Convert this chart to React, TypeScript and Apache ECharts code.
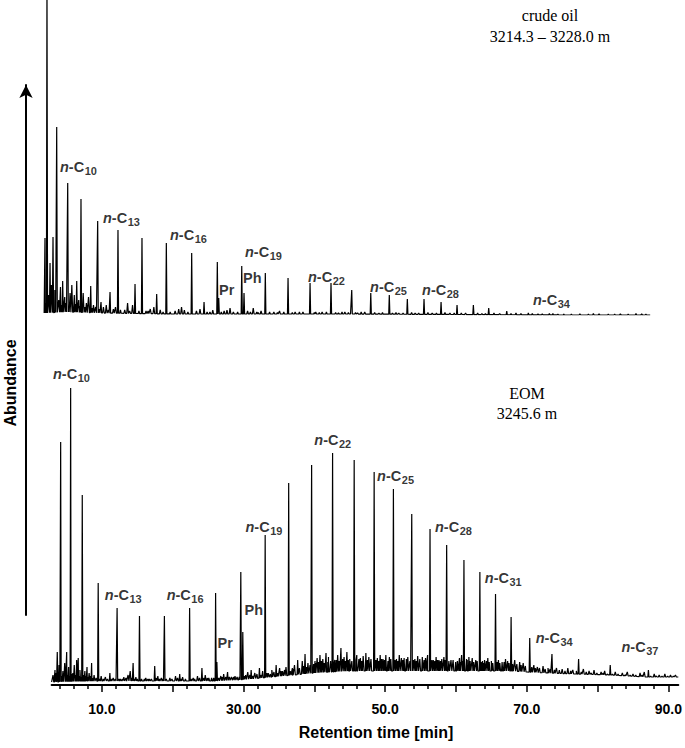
import React, { useEffect, useRef } from "react";
import * as echarts from "echarts";

const SANS = '"Liberation Sans", Arial, sans-serif';
const SERIF = '"Liberation Serif", "Times New Roman", serif';

// ---------------- crude oil (upper trace) ----------------
const OIL_BASE_TIME = [1.85, 5, 10, 20, 30, 45, 60, 75, 87.2];
const OIL_BASE_LEVEL = [2, 3, 2, 1, 1, 1, 0.5, 0, 0];

const OIL_PEAK_TIME = [1.97, 2.25, 2.68, 3.1, 3.62, 4.46, 5.17, 6.44, 7.04, 8.41, 9.39, 9.86, 11.13, 12.25, 14.65, 15.63, 17.7, 19.06, 22.63, 24.37, 26.24, 26.44, 29.68, 30.0, 33.0, 36.2, 39.3, 42.25, 45.17, 47.85, 50.46, 53.0, 55.35, 57.75, 60.0, 62.3, 64.46, 67.0, 70.04, 73.5];
const OIL_PEAK_HEIGHT = [77, 340, 52, 78, 188, 34, 132, 34, 116, 29, 94, 13, 23, 85, 31, 77, 21, 72, 62, 13, 53, 17, 49, 22, 42, 37, 32, 32, 25, 22, 20, 16, 16, 13, 10, 10, 7, 4, 2, 1.5];

const OIL_MINOR_TIME = [2.48, 2.89, 3.36, 3.9, 4.15, 4.75, 5.5, 5.75, 6.1, 6.72, 7.35, 7.8, 8.1, 8.8, 9.1, 10.2, 10.6, 11.6, 11.9, 13.2, 13.6, 14.3, 16.2, 16.8, 17.3, 18.2, 20.3, 20.8, 21.2, 21.6, 23.3, 23.8, 25.2, 25.6, 27.2, 27.6, 28.03, 28.5, 30.5, 30.9, 31.3, 31.8, 32.4, 34.2, 35.0, 37.2, 38.3, 40.1, 41.0, 43.3, 44.2, 46.0, 47.0, 49.0, 51.8, 54.1, 56.5, 59.0, 61.2, 63.5, 66, 69, 72, 75, 77.3, 80, 83, 86];
const OIL_MINOR_HEIGHT = [20, 30, 25, 15, 28, 18, 22, 30, 20, 15, 22, 12, 18, 10, 8, 8, 10, 6, 8, 5, 12, 10, 4, 6, 8, 5, 4, 6, 8, 5, 4, 6, 3, 5, 4, 5, 7, 3, 4, 3, 7, 3, 4, 3, 4, 3, 3, 3, 3, 2, 3, 2, 3, 2, 2, 2, 2, 2, 2, 1.5, 1.5, 1.5, 1, 1, 1.2, 1, 1, 1];

const OIL_NOISE_TIME = [2.1, 3.45, 4.3, 4.9, 5.35, 6.25, 6.9, 7.6, 8.6, 9.6, 10.9, 12.6, 13.9, 15.2, 16.5, 18.6, 19.6, 22.1, 24.8, 26.8, 29.1, 32.0, 33.6, 34.7, 35.6, 36.8, 37.8, 39.9, 40.6, 41.6, 42.9, 43.8, 44.7, 45.7, 46.5, 48.4, 49.5, 50.9, 51.4, 52.4, 53.6, 54.6, 55.9, 57.1, 58.3, 59.6, 60.6, 62.9, 64.0, 65.2, 67.6, 68.3, 70.6, 71.4, 73.0, 74.2, 76.1, 78.5, 79.2, 81.3, 82.2, 84.1, 85.2, 86.6];
const OIL_NOISE_HEIGHT = [12, 14, 10, 12, 9, 11, 9, 8, 7, 6, 5, 5, 4, 4, 4, 3, 3, 3, 3, 3, 3, 2.5, 3, 2.5, 3, 2.5, 3, 2.5, 2.5, 3, 2.5, 3, 2.5, 2.5, 3, 2.5, 2.5, 2, 2.5, 2, 2.5, 2, 2.5, 2, 2.5, 2, 2, 2, 1.5, 2, 1.5, 2, 1.5, 1, 1.5, 1, 1, 1, 1.5, 1, 1, 1, 1.5, 1];

const OIL_LABELS = ["n-C10", "n-C13", "n-C16", "n-C19", "Pr", "Ph", "n-C22", "n-C25", "n-C28", "n-C34"];
const OIL_LABEL_TIME = [4.08, 10.14, 19.58, 30.14, 26.48, 29.86, 39.01, 47.75, 55.07, 70.7];
const OIL_LABEL_LEVEL = [148, 97, 80, 63, 25, 37, 38, 28, 25, 15];

// ---------------- EOM (lower trace) ----------------
const EOM_BASE_TIME = [2.9, 10, 20, 26, 29, 31, 34, 37, 40, 42, 45, 50, 55, 60, 65, 68, 70, 73, 77, 82, 87, 91.4];
const EOM_BASE_LEVEL = [3, 4, 4, 4, 5, 6, 8, 10, 12, 13, 14, 14, 14, 14, 14, 14, 13, 12, 11, 10, 8, 8];

const EOM_PEAK_TIME = [3.38, 3.7, 4.18, 5.03, 5.59, 6.44, 6.66, 7.23, 8.55, 9.48, 11.13, 12.15, 14.41, 15.31, 17.46, 18.83, 20.99, 22.39, 24.13, 26.06, 26.24, 27.75, 29.62, 29.9, 31.08, 32.25, 33.06, 34.61, 36.38, 37.65, 38.69, 39.62, 41.65, 42.58, 43.76, 45.63, 47.28, 48.45, 50.1, 51.17, 52.68, 53.76, 55.25, 56.34, 57.6, 58.69, 59.96, 61.13, 61.83, 63.38, 64.04, 65.59, 66.52, 67.79, 70.42, 73.56, 77.32, 81.79, 87.18];
const EOM_PEAK_HEIGHT = [15, 33, 243, 33, 297, 25, 27, 190, 22, 102, 12, 77, 22, 69, 19, 69, 11, 77, 17, 92, 23, 13, 113, 53, 15, 17, 150, 20, 202, 25, 31, 220, 32, 232, 37, 225, 32, 213, 30, 196, 27, 171, 28, 156, 25, 140, 23, 125, 28, 113, 25, 91, 23, 68, 47, 31, 26, 20, 15];

const EOM_MINOR_TIME = [3.1, 3.95, 4.5, 4.75, 5.3, 5.9, 6.1, 6.9, 7.6, 7.9, 8.2, 8.9, 9.9, 10.5, 11.6, 12.6, 13.1, 13.7, 14.0, 14.8, 16.2, 16.7, 17.9, 18.4, 19.6, 20.4, 21.4, 22.9, 23.5, 24.6, 25.1, 26.8, 27.2, 28.3, 28.8, 30.3, 30.6, 31.6, 32.7, 33.5, 34.0, 35.1, 35.5, 36.0, 36.9, 37.2, 38.3, 39.1, 40.1, 40.4, 40.8, 41.2, 42.0, 42.9, 43.3, 44.2, 44.6, 45.0, 46.0, 46.5, 46.9, 47.7, 48.9, 49.3, 49.7, 50.6, 51.6, 52.0, 52.3, 53.2, 54.2, 54.6, 55.7, 56.0, 56.8, 57.2, 58.0, 58.3, 59.3, 60.5, 60.8, 61.5, 62.3, 62.8, 63.75, 64.5, 65.0, 66.0, 67.0, 67.3, 68.3, 69.0, 69.5, 71.0, 71.5, 72.3, 73.0, 74.2, 75.0, 75.8, 76.5, 78.0, 78.8, 79.5, 80.5, 81.0, 82.5, 83.5, 84.2, 85.0, 86.0, 86.6, 88.0, 88.7, 89.5, 90.3, 91.0];
const EOM_MINOR_HEIGHT = [10, 20, 14, 22, 18, 12, 20, 15, 14, 18, 12, 10, 9, 8, 7, 6, 8, 10, 14, 8, 7, 6, 9, 7, 7, 9, 8, 7, 9, 10, 7, 9, 11, 8, 9, 10, 13, 12, 14, 12, 15, 17, 14, 18, 17, 20, 24, 22, 24, 27, 30, 26, 28, 25, 30, 28, 33, 26, 30, 27, 29, 28, 27, 30, 26, 28, 26, 30, 27, 28, 26, 29, 27, 30, 25, 28, 26, 28, 25, 27, 30, 26, 27, 25, 24, 27, 24, 25, 26, 24, 25, 23, 22, 20, 18, 19, 17, 17, 16, 17, 15, 16, 14, 15, 13, 14, 13, 12, 13, 11, 12, 13, 11, 10, 11, 10, 10];

const EOM_NOISE_TIME = [3.3, 3.5, 4.0, 4.35, 4.6, 5.15, 5.45, 5.75, 6.3, 6.8, 7.1, 7.45, 7.75, 8.05, 8.4, 8.7, 9.2, 9.7, 10.2, 10.8, 11.3, 11.9, 12.4, 12.9, 13.4, 14.2, 14.6, 15.0, 15.6, 16.0, 16.5, 17.0, 17.7, 18.1, 18.6, 19.1, 19.9, 20.7, 21.2, 21.8, 22.6, 23.1, 23.8, 24.4, 24.9, 25.5, 25.8, 26.5, 27.0, 27.5, 28.0, 28.6, 29.1, 29.4, 30.1, 30.9, 31.3, 31.9, 32.5, 33.3, 33.8, 34.3, 34.8, 35.3, 35.8, 36.6, 37.0, 37.9, 38.5, 38.9, 39.4, 39.9, 40.2, 40.6, 41.0, 41.4, 41.9, 42.3, 42.8, 43.1, 43.5, 44.0, 44.4, 44.8, 45.3, 45.9, 46.3, 46.7, 47.5, 48.0, 48.7, 49.1, 49.5, 49.9, 50.4, 50.8, 51.4, 51.8, 52.5, 53.0, 53.5, 54.0, 54.4, 54.9, 55.5, 55.9, 56.6, 57.0, 57.4, 57.8, 58.5, 59.0, 59.6, 60.2, 60.6, 61.0, 61.6, 62.0, 62.5, 63.0, 63.55, 63.9, 64.3, 64.7, 65.2, 65.8, 66.2, 66.8, 67.5, 68.0, 68.6, 69.2, 69.8, 70.7, 71.2, 71.8, 72.6, 73.3, 73.9, 74.6, 75.4, 76.2, 77.0, 77.7, 78.4, 79.1, 79.9, 80.8, 81.4, 82.1, 82.9, 83.9, 84.6, 85.4, 86.3, 87.5, 88.3, 89.1, 89.9, 90.7];
const EOM_NOISE_HEIGHT = [8, 12, 10, 9, 12, 10, 9, 11, 10, 9, 8, 10, 9, 8, 9, 7, 7, 6, 6, 6, 6, 6, 6, 6, 7, 7, 6, 6, 6, 6, 6, 6, 7, 6, 6, 6, 6, 7, 6, 6, 6, 6, 7, 7, 7, 7, 7, 7, 8, 8, 8, 8, 8, 8, 9, 10, 9, 11, 10, 12, 11, 13, 12, 14, 15, 14, 16, 17, 19, 18, 20, 21, 22, 23, 24, 22, 23, 24, 22, 25, 24, 26, 24, 25, 24, 25, 26, 24, 25, 26, 25, 24, 26, 25, 24, 26, 25, 24, 25, 26, 24, 25, 24, 26, 25, 24, 25, 24, 25, 24, 25, 24, 25, 24, 23, 24, 25, 24, 23, 24, 23, 22, 24, 23, 22, 23, 22, 23, 22, 21, 21, 20, 19, 18, 17, 17, 16, 16, 15, 15, 14, 14, 14, 13, 13, 12, 12, 12, 11, 11, 11, 10, 10, 10, 10, 9, 9, 9, 9, 9];

const EOM_LABELS = ["n-C10", "n-C13", "n-C16", "Pr", "Ph", "n-C19", "n-C22", "n-C25", "n-C28", "n-C31", "n-C34", "n-C37"];
const EOM_LABEL_TIME = [3.1, 10.42, 19.15, 26.34, 30.14, 30.28, 40.0, 48.87, 57.04, 64.08, 71.27, 83.38];
const EOM_LABEL_LEVEL = [311, 90, 90, 42, 75, 158, 245, 209, 158, 107, 47, 38];

// ---------------- axis ----------------
const TICK_LABEL_VALUES = [10, 30, 50, 70, 90];
const TICK_LABELS = ["10.0", "30.00", "50.0", "70.0", "90.0"];
const MAJOR_TICKS = [10, 20, 30, 40, 50, 60, 70, 80, 90];
const MINOR_TICKS = [4, 6, 8, 12, 14, 16, 18, 22, 24, 26, 28, 32, 34, 36, 38, 42, 44, 46, 48, 52, 54, 56, 58, 62, 64, 66, 68, 72, 74, 76, 78, 82, 84, 86, 88];

function baseAt(ts: number[], vs: number[], t: number): number {
  for (let i = 0; i < ts.length - 1; i++) {
    if (t >= ts[i] && t <= ts[i + 1]) {
      const f = (t - ts[i]) / (ts[i + 1] - ts[i]);
      return vs[i] + f * (vs[i + 1] - vs[i]);
    }
  }
  return vs[vs.length - 1];
}

function buildTrace(
  baseT: number[], baseV: number[],
  groups: [number[], number[], number][]
): number[][] {
  const pts: number[][] = [];
  baseT.forEach((t, i) => pts.push([t, baseV[i]]));
  const lo = baseT[0];
  const hi = baseT[baseT.length - 1];
  groups.forEach(([ts, vs, hw]) => {
    ts.forEach((t, i) => {
      if (t - hw < lo || t + hw > hi) return;
      pts.push([t - hw, baseAt(baseT, baseV, t - hw)], [t, vs[i]], [t + hw, baseAt(baseT, baseV, t + hw)]);
    });
  });
  pts.sort((a, b) => a[0] - b[0]);
  return pts;
}

function richName(name: string): string {
  const m = /^n-C(\d+)$/.exec(name);
  if (m) return `{i|n}{b|-C}{s|${m[1]}}`;
  return `{b|${name}}`;
}

const RICH = {
  i: { fontFamily: SANS, fontStyle: "italic", fontWeight: "bold", fontSize: 14.5, color: "#000", lineHeight: 18, verticalAlign: "middle" },
  b: { fontFamily: SANS, fontWeight: "bold", fontSize: 14.5, color: "#000", lineHeight: 18, verticalAlign: "middle" },
  s: { fontFamily: SANS, fontWeight: "bold", fontSize: 11, color: "#000", lineHeight: 18, verticalAlign: "bottom", padding: [0, 0, 0, 0.5] },
};

export default function App() {
  const ref = useRef<HTMLDivElement>(null);
  useEffect(() => {
    if (!ref.current) return;
    const chart = echarts.init(ref.current, undefined, { renderer: "svg" });
    const oil = buildTrace(OIL_BASE_TIME, OIL_BASE_LEVEL, [
      [OIL_PEAK_TIME, OIL_PEAK_HEIGHT, 0.08],
      [OIL_MINOR_TIME, OIL_MINOR_HEIGHT, 0.12],
      [OIL_NOISE_TIME, OIL_NOISE_HEIGHT, 0.1],
    ]);
    const eom = buildTrace(EOM_BASE_TIME, EOM_BASE_LEVEL, [
      [EOM_PEAK_TIME, EOM_PEAK_HEIGHT, 0.08],
      [EOM_MINOR_TIME, EOM_MINOR_HEIGHT, 0.12],
      [EOM_NOISE_TIME, EOM_NOISE_HEIGHT, 0.1],
    ]);
    const oilLabels = OIL_LABELS.map((n, i) => [OIL_LABEL_TIME[i], OIL_LABEL_LEVEL[i], n]);
    const eomLabels = EOM_LABELS.map((n, i) => [EOM_LABEL_TIME[i], EOM_LABEL_LEVEL[i], n]);

    const labelSeries = (data: any[], xi: number, yi: number) => ({
      type: "scatter",
      xAxisIndex: xi,
      yAxisIndex: yi,
      data,
      symbolSize: 0,
      clip: false,
      silent: true,
      label: {
        show: true,
        position: "right",
        distance: 0,
        formatter: (p: any) => richName(p.data[2]),
        rich: RICH,
      },
    });

    const option: any = {
      animation: false,
      backgroundColor: "#fff",
      grid: [
        { left: 41.65, right: 5, top: 0, height: 315 },
        { left: 51.6, right: 5, top: 385, height: 300 },
        { left: 26, width: 20, top: 85, height: 530 },
      ],
      xAxis: [
        { gridIndex: 0, type: "value", min: 1.5, max: 91.4, show: false },
        {
          gridIndex: 1, type: "value", min: 2.9, max: 91.4, position: "bottom",
          axisLine: { show: true, lineStyle: { color: "#000", width: 2 } },
          axisTick: { show: true, customValues: MAJOR_TICKS, length: 7, lineStyle: { color: "#000", width: 1.5 } },
          axisLabel: {
            show: true,
            customValues: TICK_LABEL_VALUES,
            formatter: (v: number) => {
              const k = TICK_LABEL_VALUES.indexOf(Math.round(v));
              return k >= 0 ? TICK_LABELS[k] : "";
            },
            margin: 17,
            fontFamily: SANS, fontWeight: "bold", fontSize: 14, color: "#000",
          },
          splitLine: { show: false },
        },
        {
          gridIndex: 1, type: "value", min: 2.9, max: 91.4, position: "bottom",
          axisLine: { show: false },
          axisTick: { show: true, customValues: MINOR_TICKS, length: 4, lineStyle: { color: "#000", width: 1.5 } },
          axisLabel: { show: false },
          splitLine: { show: false },
        },
        { gridIndex: 2, type: "value", show: false },
      ],
      yAxis: [
        { gridIndex: 0, type: "value", min: 0, max: 315, show: false },
        { gridIndex: 1, type: "value", min: 0, max: 300, show: false },
        {
          gridIndex: 2, type: "value", min: 0, max: 1, position: "left",
          axisLine: { show: true, symbol: ["none", "arrow"], symbolSize: [10, 13], lineStyle: { color: "#000", width: 2 } },
          axisTick: { show: false }, axisLabel: { show: false }, splitLine: { show: false },
        },
      ],
      series: [
        {
          type: "line", name: "crude oil", xAxisIndex: 0, yAxisIndex: 0, data: oil,
          symbol: "none", lineStyle: { color: "#000", width: 1.2 }, clip: true, silent: true,
        },
        {
          type: "line", name: "EOM", xAxisIndex: 1, yAxisIndex: 1, data: eom,
          symbol: "none", lineStyle: { color: "#000", width: 1.2 }, clip: true, silent: true,
        },
        labelSeries(oilLabels, 0, 0),
        labelSeries(eomLabels, 1, 1),
      ],
      graphic: [
        { type: "text", x: 550, y: 15, style: { text: "crude oil", font: `16px ${SERIF}`, fill: "#000", align: "center", verticalAlign: "middle", textAlign: "center", textVerticalAlign: "middle" } },
        { type: "text", x: 550, y: 36, style: { text: "3214.3 – 3228.0 m", font: `16px ${SERIF}`, fill: "#000", align: "center", verticalAlign: "middle", textAlign: "center", textVerticalAlign: "middle" } },
        { type: "text", x: 527, y: 393, style: { text: "EOM", font: `16px ${SERIF}`, fill: "#000", align: "center", verticalAlign: "middle", textAlign: "center", textVerticalAlign: "middle" } },
        { type: "text", x: 527, y: 413, style: { text: "3245.6 m", font: `16px ${SERIF}`, fill: "#000", align: "center", verticalAlign: "middle", textAlign: "center", textVerticalAlign: "middle" } },
        { type: "text", x: 376, y: 732, style: { text: "Retention time [min]", font: `bold 16px ${SANS}`, fill: "#000", align: "center", verticalAlign: "middle", textAlign: "center", textVerticalAlign: "middle" } },
        { type: "text", x: 10, y: 383, rotation: Math.PI / 2, style: { text: "Abundance", font: `bold 16px ${SANS}`, fill: "#000", align: "center", verticalAlign: "middle", textAlign: "center", textVerticalAlign: "middle" } },
      ],
    };
    chart.setOption(option);
    return () => chart.dispose();
  }, []);
  return (
    <div
      ref={ref}
      style={{ position: "fixed", left: 0, top: 0, width: 685, height: 748, background: "#fff" }}
    />
  );
}
